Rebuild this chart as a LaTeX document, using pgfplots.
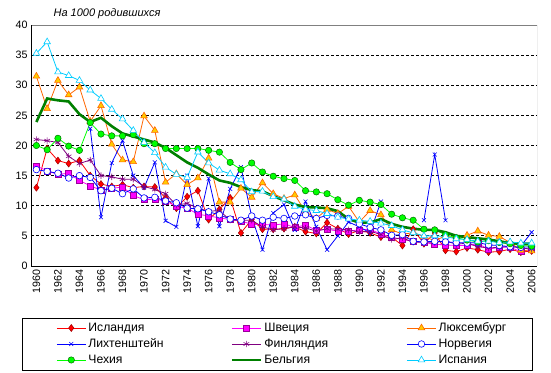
\documentclass[border=0pt]{standalone}
\usepackage{fontspec}
\setmainfont{Liberation Sans}
\usepackage{pgfplots}
\pgfplotsset{compat=1.18}
\definecolor{cIce}{HTML}{FF0000}
\definecolor{cIceE}{HTML}{A00000}
\definecolor{cSwe}{HTML}{FF00FF}
\definecolor{cSweE}{HTML}{990099}
\definecolor{cLux}{HTML}{FF6600}
\definecolor{cLuxF}{HTML}{FFCC00}
\definecolor{cLie}{HTML}{0000FF}
\definecolor{cFin}{HTML}{800080}
\definecolor{cNor}{HTML}{0000FF}
\definecolor{cCze}{HTML}{00FF00}
\definecolor{cCzeE}{HTML}{007000}
\definecolor{cBel}{HTML}{008000}
\definecolor{cEsp}{HTML}{00CCFF}
\begin{document}
\fontsize{10bp}{12bp}\selectfont
\begin{tikzpicture}
\useasboundingbox (0,0) rectangle (551bp,-373bp);
\node[font=\fontsize{11bp}{13bp}\selectfont\itshape] at (107bp,-14bp) {На 1000 родившихся};
\begin{axis}[
  at={(31bp,-25bp)}, anchor=north west,
  width=506bp, height=241bp, scale only axis,
  xmin=1959.5, xmax=2006.5, ymin=0, ymax=40,
  xtick={1960,1962,...,2006},
  ytick={0,5,...,40},
  x tick label style={rotate=90, anchor=east},
  tick label style={font=\fontsize{10.7bp}{12bp}\selectfont},
  /pgf/number format/assume math mode=true,
  /pgf/number format/1000 sep={},
  ymajorgrids,
  grid style={black, dash pattern=on 3bp off 2bp, line width=0.8bp},
  major tick length=0pt,
  axis line style={draw=none},
  unbounded coords=jump,
  legend columns=3,
  legend style={at={(-0.0178,-0.214)}, anchor=north west, draw=black, line width=0.8bp,
     inner xsep=34bp, inner ysep=2bp, font=\fontsize{12.2bp}{14bp}\selectfont,
     cells={anchor=west}, nodes={text height=9bp, text depth=2.6bp, inner sep=2.2bp}},
  legend image code/.code={\draw[mark repeat=2,mark phase=2] plot coordinates {(0bp,0bp) (14.5bp,0bp) (29bp,0bp)};},
  every axis plot/.append style={line width=0.8bp},
]
% Iceland
\addplot[color=cIce, mark=diamond*, mark size=3.5bp, mark options={fill=cIce, draw=cIceE, line width=0.5bp}] coordinates {
(1960,13.0)(1961,19.5)(1962,17.5)(1963,17.0)(1964,17.5)(1965,15.0)(1966,13.6)(1967,13.2)(1968,13.5)(1969,13.0)
(1970,13.2)(1971,13.1)(1972,11.3)(1973,9.6)(1974,11.5)(1975,12.5)(1976,7.7)(1977,9.4)(1978,11.3)(1979,5.5)
(1980,7.7)(1981,6.1)(1982,6.1)(1983,6.2)(1984,6.5)(1985,5.7)(1986,5.4)(1987,7.2)(1988,6.2)(1989,5.3)
(1990,5.9)(1991,5.5)(1992,4.8)(1993,4.8)(1994,3.4)(1995,6.1)(1996,3.7)(1997,5.5)(1998,2.6)(1999,2.4)
(2000,3.0)(2001,2.7)(2002,2.3)(2003,2.4)(2004,2.8)(2005,2.3)(2006,2.5)};
\addlegendentry{\makebox[140bp][l]{Исландия}}
% Sweden
\addplot[color=cSwe, mark=square*, mark size=3bp, mark options={fill=cSwe, draw=cSweE, line width=0.5bp}] coordinates {
(1960,16.6)(1961,15.8)(1962,15.2)(1963,15.4)(1964,14.2)(1965,13.3)(1966,12.6)(1967,12.9)(1968,13.1)(1969,11.7)
(1970,11.0)(1971,11.1)(1972,10.8)(1973,9.9)(1974,9.6)(1975,8.6)(1976,8.3)(1977,8.0)(1978,7.7)(1979,7.5)
(1980,6.9)(1981,6.9)(1982,6.8)(1983,7.0)(1984,6.4)(1985,6.8)(1986,5.9)(1987,6.1)(1988,5.8)(1989,5.8)
(1990,6.0)(1991,6.1)(1992,5.3)(1993,4.8)(1994,4.4)(1995,4.1)(1996,3.9)(1997,3.6)(1998,3.5)(1999,3.4)
(2000,3.4)(2001,3.7)(2002,2.8)(2003,3.1)(2004,3.1)(2005,2.4)(2006,2.8)};
\addlegendentry{\makebox[140bp][l]{Швеция}}
% Luxembourg
\addplot[color=cLux, mark=triangle*, mark size=3.8bp, mark options={fill=cLuxF, draw=cLux, line width=0.6bp}] coordinates {
(1960,31.5)(1961,26.1)(1962,30.8)(1963,28.4)(1964,29.7)(1965,24.0)(1966,26.6)(1967,20.2)(1968,17.6)(1969,17.3)
(1970,24.9)(1971,22.5)(1972,13.9)(1973,15.3)(1974,13.5)(1975,14.6)(1976,17.9)(1977,10.6)(1978,10.6)(1979,12.9)
(1980,11.4)(1981,13.8)(1982,12.0)(1983,11.2)(1984,11.8)(1985,9.0)(1986,7.9)(1987,9.4)(1988,8.7)(1989,9.9)
(1990,7.3)(1991,9.2)(1992,8.5)(1993,6.0)(1994,5.3)(1995,5.5)(1996,4.9)(1997,4.2)(1998,5.0)(1999,4.6)
(2000,5.1)(2001,5.8)(2002,5.1)(2003,4.9)(2004,3.9)(2005,2.6)(2006,2.5)};
\addlegendentry{\makebox[58bp][l]{Люксембург}}
% Liechtenstein
\addplot[color=cLie, mark=x, mark size=2.8bp, mark options={line width=0.6bp}] coordinates {
(1965,22.8)(1966,8.1)(1967,17.1)(1968,20.8)(1969,15.0)
(1970,13.0)(1971,17.2)(1972,7.5)(1973,6.5)(1974,15.0)(1975,6.6)(1976,14.5)(1977,6.6)(1978,12.8)(1979,16.4)
(1980,8.2)(1981,2.7)(1982,8.8)(1983,10.2)(1984,6.0)(1985,10.7)(1986,6.5)(1987,2.7)(1988,5.0)(1989,7.3)
(1990,6.5)(1991,5.5)(1992,10.7)(1993,nan)(1994,nan)(1995,nan)(1996,7.6)(1997,18.5)(1998,7.6)(1999,nan)
(2000,nan)(2001,nan)(2002,nan)(2003,nan)(2004,nan)(2005,3.3)(2006,5.6)};
\addlegendentry{\makebox[140bp][l]{Лихтенштейн}}
% Finland
\addplot[color=cFin, mark=asterisk, mark size=3.2bp, mark options={line width=0.6bp}] coordinates {
(1960,21.0)(1961,20.8)(1962,20.5)(1963,18.2)(1964,17.0)(1965,17.6)(1966,15.0)(1967,14.8)(1968,14.4)(1969,14.4)
(1970,13.2)(1971,12.7)(1972,12.0)(1973,10.1)(1974,10.4)(1975,9.6)(1976,9.1)(1977,9.2)(1978,7.6)(1979,7.6)
(1980,7.6)(1981,6.5)(1982,6.0)(1983,6.2)(1984,6.5)(1985,6.3)(1986,5.8)(1987,6.2)(1988,6.1)(1989,6.0)
(1990,5.6)(1991,5.8)(1992,5.2)(1993,4.4)(1994,4.7)(1995,3.9)(1996,4.0)(1997,3.9)(1998,4.2)(1999,3.6)
(2000,3.8)(2001,3.2)(2002,3.0)(2003,3.1)(2004,3.3)(2005,3.0)(2006,2.8)};
\addlegendentry{\makebox[140bp][l]{Финляндия}}
% Norway
\addplot[color=cNor, mark=*, mark size=3.3bp, mark options={fill=white, draw=cNor, line width=0.6bp}] coordinates {
(1960,16.0)(1961,15.7)(1962,15.4)(1963,14.6)(1964,15.0)(1965,14.7)(1966,12.5)(1967,12.9)(1968,12.0)(1969,12.8)
(1970,11.3)(1971,11.4)(1972,10.8)(1973,10.5)(1974,9.6)(1975,9.5)(1976,9.0)(1977,8.5)(1978,7.8)(1979,7.6)
(1980,8.3)(1981,7.6)(1982,8.1)(1983,7.9)(1984,8.3)(1985,8.5)(1986,7.9)(1987,8.4)(1988,8.3)(1989,7.9)
(1990,7.0)(1991,6.4)(1992,6.0)(1993,5.1)(1994,5.2)(1995,4.1)(1996,4.0)(1997,4.1)(1998,4.0)(1999,3.9)
(2000,3.8)(2001,3.9)(2002,3.5)(2003,3.4)(2004,3.2)(2005,3.1)(2006,3.2)};
\addlegendentry{\makebox[58bp][l]{Норвегия}}
% Czechia
\addplot[color=cCze, mark=*, mark size=3.2bp, mark options={fill=cCze, draw=cCzeE, line width=0.5bp}] coordinates {
(1960,20.0)(1961,19.3)(1962,21.2)(1963,19.9)(1964,19.2)(1965,23.8)(1966,21.9)(1967,21.6)(1968,21.6)(1969,21.8)
(1970,20.3)(1971,20.3)(1972,19.5)(1973,19.5)(1974,19.5)(1975,19.5)(1976,19.2)(1977,18.9)(1978,17.2)(1979,16.0)
(1980,17.1)(1981,15.6)(1982,14.9)(1983,14.5)(1984,14.2)(1985,12.5)(1986,12.3)(1987,12.0)(1988,11.0)(1989,10.1)
(1990,10.9)(1991,10.6)(1992,10.2)(1993,8.6)(1994,8.0)(1995,7.6)(1996,6.1)(1997,6.0)(1998,5.2)(1999,4.7)
(2000,4.3)(2001,4.0)(2002,4.2)(2003,3.9)(2004,3.7)(2005,3.4)(2006,3.3)};
\addlegendentry{\makebox[140bp][l]{Чехия}}
% Belgium
\addplot[color=cBel, line width=2.6bp, mark=none] coordinates {
(1960,23.9)(1961,27.8)(1962,27.5)(1963,27.3)(1964,25.2)(1965,23.9)(1966,24.6)(1967,23.2)(1968,22.0)(1969,21.5)
(1970,21.0)(1971,20.5)(1972,19.6)(1973,18.4)(1974,17.2)(1975,16.3)(1976,15.2)(1977,14.2)(1978,13.8)(1979,13.1)
(1980,12.6)(1981,12.4)(1982,11.6)(1983,10.9)(1984,10.2)(1985,9.8)(1986,9.7)(1987,9.6)(1988,9.1)(1989,7.8)
(1990,7.2)(1991,7.2)(1992,7.8)(1993,7.0)(1994,6.5)(1995,6.2)(1996,6.0)(1997,6.0)(1998,5.6)(1999,5.0)
(2000,4.8)(2001,4.6)(2002,4.4)(2003,4.1)(2004,3.8)(2005,3.7)(2006,3.7)};
\addlegendentry{\makebox[140bp][l]{Бельгия}}
% Spain
\addplot[color=cEsp, mark=triangle*, mark size=3.8bp, mark options={fill=white, draw=cEsp, line width=0.6bp}] coordinates {
(1960,35.3)(1961,37.2)(1962,32.2)(1963,31.6)(1964,30.8)(1965,29.2)(1966,27.8)(1967,26.0)(1968,24.4)(1969,22.5)
(1970,20.5)(1971,18.8)(1972,16.4)(1973,15.2)(1974,14.7)(1975,18.9)(1976,17.1)(1977,15.9)(1978,15.3)(1979,14.3)
(1980,12.3)(1981,12.4)(1982,11.5)(1983,11.1)(1984,9.9)(1985,9.4)(1986,9.2)(1987,8.7)(1988,8.1)(1989,7.8)
(1990,7.6)(1991,7.4)(1992,7.1)(1993,6.7)(1994,6.0)(1995,5.5)(1996,5.0)(1997,5.0)(1998,4.9)(1999,4.5)
(2000,4.4)(2001,4.1)(2002,4.1)(2003,3.9)(2004,4.0)(2005,3.8)(2006,3.8)};
\addlegendentry{\makebox[58bp][l]{Испания}}
\draw[gray, line width=1bp] (rel axis cs:0,1) -- (rel axis cs:1,1) -- (rel axis cs:1,0);
\draw[black, line width=1bp] (rel axis cs:0,1) -- (rel axis cs:0,0) -- (rel axis cs:1,0);
\end{axis}
\end{tikzpicture}
\end{document}
